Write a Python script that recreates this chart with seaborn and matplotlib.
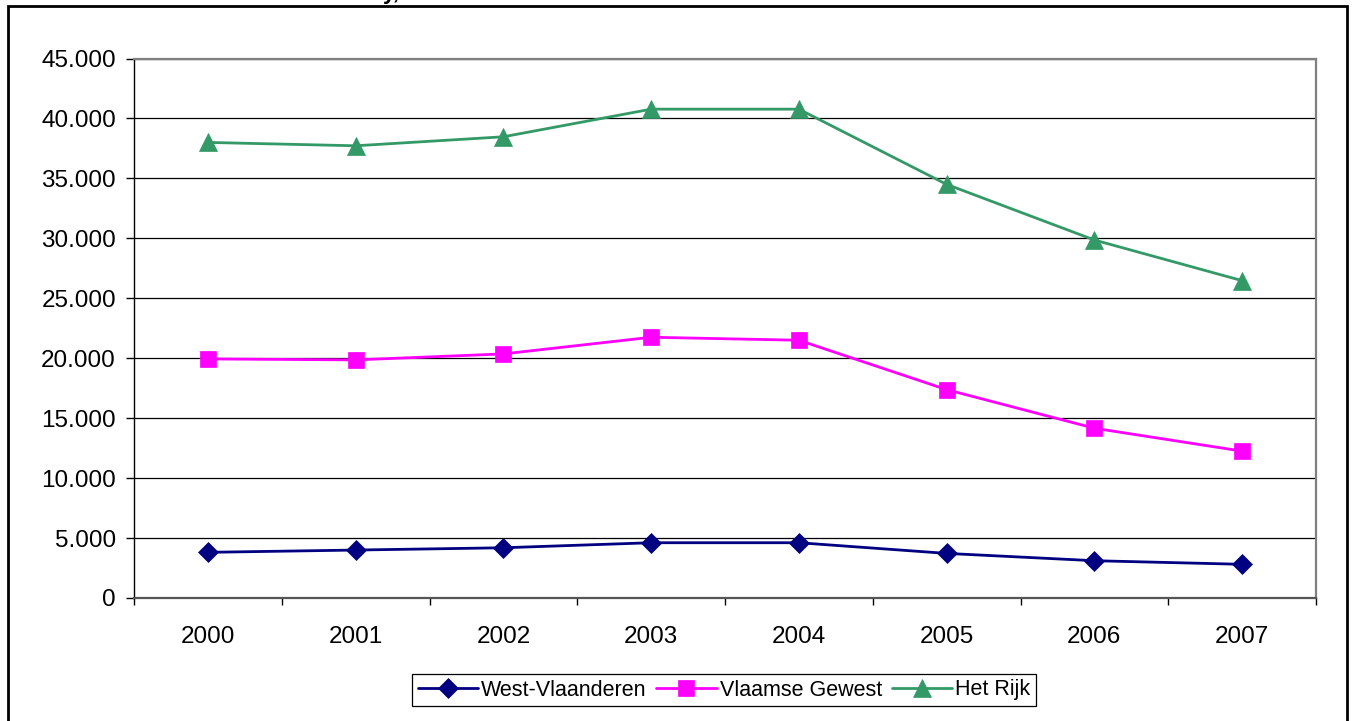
import matplotlib
matplotlib.use("Agg")
import matplotlib.pyplot as plt
import matplotlib.ticker as mticker
from matplotlib.colors import to_hex
from matplotlib.patches import Rectangle
import pandas as pd
import seaborn as sns

years = [2000, 2001, 2002, 2003, 2004, 2005, 2006, 2007]
west_vlaanderen = [3810, 4000, 4190, 4610, 4610, 3720, 3110, 2810]
vlaamse_gewest = [19940, 19860, 20360, 21750, 21500, 17380, 14160, 12250]
het_rijk = [38000, 37720, 38470, 40775, 40775, 34500, 29860, 26470]

series_names = ["West-Vlaanderen", "Vlaamse Gewest", "Het Rijk"]
colors = {"West-Vlaanderen": "#000080", "Vlaamse Gewest": "#ff00ff", "Het Rijk": "#339966"}
markers = {"West-Vlaanderen": "D", "Vlaamse Gewest": "s", "Het Rijk": "^"}
# marker size per line colour
marker_sizes = {"#000080": 10, "#ff00ff": 11, "#339966": 12.5}

df = pd.DataFrame({
    "jaar": years * 3,
    "aantal": west_vlaanderen + vlaamse_gewest + het_rijk,
    "reeks": [n for n in series_names for _ in years],
})

sns.set_style("white")
plt.rcParams["font.family"] = ["Liberation Sans", "DejaVu Sans"]
plt.rcParams["text.color"] = "black"
plt.rcParams["xtick.color"] = "black"
plt.rcParams["ytick.color"] = "black"

fig = plt.figure(figsize=(13.55, 7.21), dpi=100)
ax = fig.add_axes([134 / 1355, 1 - 598 / 721, (1316 - 134) / 1355, (598 - 58.5) / 721])

sns.lineplot(data=df, x="jaar", y="aantal", hue="reeks", style="reeks",
             hue_order=series_names, style_order=series_names,
             palette=colors, markers=markers, dashes=False,
             linewidth=2.0, ax=ax, legend=True)

ax.set_xlim(1999.5, 2007.5)
ax.set_ylim(0, 45000)
ax.set_xlabel("")
ax.set_ylabel("")

ax.set_xticks(years)
ax.set_xticklabels([str(y) for y in years])
ax.xaxis.set_minor_locator(mticker.FixedLocator([y + 0.5 for y in [1999] + years]))
ax.tick_params(axis="x", which="major", length=0, pad=20, labelsize=17.5, labelcolor="black")
ax.tick_params(axis="x", which="minor", length=5, width=1, color="black", direction="out", bottom=True)

ax.set_yticks(range(0, 45001, 5000))
ax.yaxis.set_major_formatter(mticker.FuncFormatter(lambda v, p: f"{int(v):,}".replace(",", ".")))
ax.tick_params(axis="y", length=6, width=1, color="black", direction="out", left=True,
               labelsize=17.5, pad=7, labelcolor="black")

ax.grid(axis="y", color="black", linewidth=0.9)
ax.grid(axis="x", visible=False)
ax.set_axisbelow(True)

ax.spines["left"].set_color("black")
ax.spines["left"].set_linewidth(1.0)
ax.spines["bottom"].set_color("#555555")
ax.spines["bottom"].set_linewidth(1.6)
for s in ["top", "right"]:
    ax.spines[s].set_color("#808080")
    ax.spines[s].set_linewidth(1.6)

handles, labels = ax.get_legend_handles_labels()
ax.get_legend().remove()
for line in list(ax.lines) + list(handles):
    c = to_hex(line.get_color())
    if c in marker_sizes:
        line.set_markersize(marker_sizes[c])
        line.set_markeredgecolor(c)
        line.set_markerfacecolor(c)
        line.set_markeredgewidth(0.5)
    line.set_linewidth(2.0)

leg = fig.legend(handles, labels, loc="center", bbox_to_anchor=(724 / 1355, 1 - 690 / 721),
                 ncol=3, frameon=True, fancybox=False, edgecolor="black", framealpha=1,
                 fontsize=15.5, handlelength=2.8, handletextpad=0.15, columnspacing=0.45,
                 borderpad=0.25, borderaxespad=0, labelcolor="black")
leg.get_frame().set_linewidth(0.9)

# outer chart frame
fig.patches.append(Rectangle((8 / 1355, -0.02), (1347 - 8) / 1355, 1.02 - 6 / 721,
                             transform=fig.transFigure, fill=False, edgecolor="black",
                             linewidth=2.0, clip_on=False))

# title cut off at the top of the picture
fig.text(383 / 1355, 1 + 1.5 / 721, "y,", fontsize=16, fontweight="bold", ha="left", va="baseline")

fig.savefig("out.png", dpi=100)
